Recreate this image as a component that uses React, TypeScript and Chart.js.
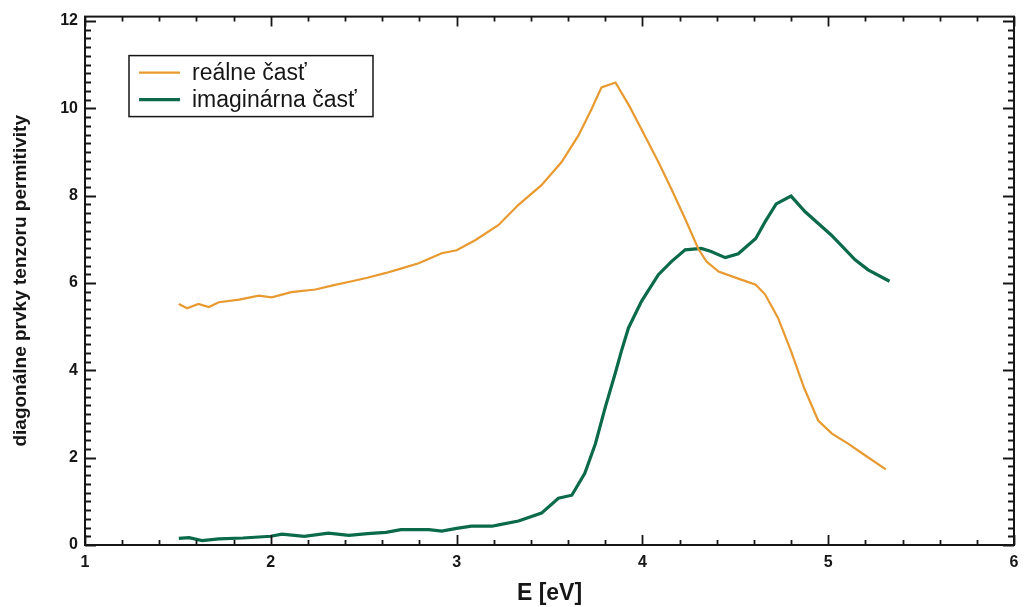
import React, { useEffect, useRef } from "react";
import { Chart, registerables } from "chart.js";

Chart.register(...registerables);

// ---- data ----
const realEnergy = [
  1.505, 1.55, 1.61, 1.667, 1.72, 1.83, 1.935, 2.005, 2.11, 2.24, 2.34, 2.436, 2.52, 2.62, 2.7, 2.796,
  2.92, 3.0, 3.1, 3.226, 3.333, 3.457, 3.565, 3.656, 3.726, 3.78, 3.855, 3.93, 3.995, 4.086, 4.156,
  4.23, 4.3, 4.345, 4.41, 4.516, 4.61, 4.66, 4.73, 4.8, 4.87, 4.946, 5.02, 5.107, 5.2, 5.31,
];
const realValues = [
  5.52, 5.42, 5.52, 5.45, 5.56, 5.62, 5.71, 5.67, 5.79, 5.85, 5.95, 6.04, 6.12, 6.23, 6.33, 6.45,
  6.68, 6.75, 6.98, 7.33, 7.79, 8.24, 8.77, 9.38, 9.98, 10.48, 10.59, 10.05, 9.52, 8.77, 8.15,
  7.47, 6.79, 6.49, 6.26, 6.1, 5.96, 5.74, 5.2, 4.44, 3.6, 2.85, 2.55, 2.32, 2.05, 1.73,
];
const imagEnergy = [
  1.505, 1.56, 1.63, 1.72, 1.85, 2.0, 2.06, 2.18, 2.31, 2.42, 2.52, 2.62, 2.7, 2.85, 2.92, 3.0,
  3.08, 3.19, 3.226, 3.333, 3.457, 3.548, 3.62, 3.69, 3.747, 3.8, 3.855, 3.887, 3.925, 3.995,
  4.086, 4.156, 4.23, 4.317, 4.37, 4.446, 4.516, 4.61, 4.66, 4.72, 4.8, 4.876, 5.016, 5.145,
  5.215, 5.33,
];
const imagValues = [
  0.15, 0.17, 0.1, 0.14, 0.16, 0.2, 0.25, 0.2, 0.27, 0.22, 0.26, 0.29, 0.35, 0.35, 0.32, 0.38,
  0.43, 0.43, 0.46, 0.55, 0.73, 1.07, 1.14, 1.64, 2.32, 3.15, 3.95, 4.44, 4.97, 5.58,
  6.19, 6.49, 6.76, 6.79, 6.72, 6.58, 6.67, 7.02, 7.4, 7.81, 7.99, 7.63, 7.1, 6.53,
  6.3, 6.04,
];
const seriesLabels = ["reálne časť", "imaginárna časť"];
const xTickValues = [1, 2, 3, 4, 5, 6];
const yTickValues = [0, 2, 4, 6, 8, 10, 12];
const xTitle = "E [eV]";
const yTitle = "diagonálne prvky tenzoru permitivity";

const ORANGE = "#E8992F";
const GREEN = "#0A6A4A";
const INK = "#161616";

const frameAndLegend = {
  id: "frameAndLegend",
  afterDatasetsDraw(chart: any) {
    const { ctx, chartArea: a } = chart;
    const xs = chart.scales.x;
    const ys = chart.scales.y;
    ctx.save();
    ctx.strokeStyle = INK;
    ctx.lineWidth = 2;
    ctx.strokeRect(a.left, a.top, a.right - a.left, a.bottom - a.top);
    ctx.lineWidth = 1.8;
    ctx.beginPath();
    // x ticks (bottom + top), minor every 0.2
    for (let i = 0; i <= 25; i++) {
      const v = xTickValues[0] + i * 0.2;
      const px = Math.round(xs.getPixelForValue(v)) + 0.5;
      const len = i % 5 === 0 ? 10 : 5;
      ctx.moveTo(px, a.bottom);
      ctx.lineTo(px, a.bottom - len);
      ctx.moveTo(px, a.top);
      ctx.lineTo(px, a.top + len);
    }
    // y ticks (left + right), minor every 0.2
    for (let i = 0; i <= 60; i++) {
      const v = yTickValues[0] + i * 0.2;
      const py = Math.round(ys.getPixelForValue(v)) + 0.5;
      const len = i % 10 === 0 ? 11 : 6;
      ctx.moveTo(a.left, py);
      ctx.lineTo(a.left + len, py);
      ctx.moveTo(a.right, py);
      ctx.lineTo(a.right - len, py);
    }
    ctx.stroke();

    // legend box
    const bx = a.left + 44;
    const by = a.top + 39;
    const bw = 244;
    const bh = 61;
    ctx.lineWidth = 1.5;
    ctx.strokeStyle = INK;
    ctx.strokeRect(bx, by, bw, bh);
    const dsets = chart.data.datasets;
    const rows = [by + 17, by + 44];
    ctx.font = "23px 'Liberation Sans', Arial, sans-serif";
    ctx.textBaseline = "middle";
    ctx.fillStyle = INK;
    dsets.forEach((d: any, i: number) => {
      ctx.strokeStyle = d.borderColor;
      ctx.lineWidth = d.borderWidth;
      ctx.beginPath();
      ctx.moveTo(bx + 10, rows[i]);
      ctx.lineTo(bx + 51, rows[i]);
      ctx.stroke();
      ctx.fillText(d.label, bx + 63, rows[i] + 1);
    });
    ctx.restore();
  },
};

export default function App() {
  const ref = useRef<HTMLCanvasElement | null>(null);
  useEffect(() => {
    document.body.style.margin = "0";
    const canvas = ref.current!;
    const chart = new Chart(canvas, {
      type: "line",
      data: {
        datasets: [
          {
            label: seriesLabels[0],
            data: realEnergy.map((x, i) => ({ x, y: realValues[i] })),
            borderColor: ORANGE,
            borderWidth: 2.2,
            pointRadius: 0,
            tension: 0,
          },
          {
            label: seriesLabels[1],
            data: imagEnergy.map((x, i) => ({ x, y: imagValues[i] })),
            borderColor: GREEN,
            borderWidth: 3.2,
            pointRadius: 0,
            tension: 0,
          },
        ],
      },
      options: {
        animation: false,
        responsive: false,
        maintainAspectRatio: false,
        layout: { padding: { top: 14, right: 14, left: 0, bottom: 0 } },
        plugins: { legend: { display: false }, tooltip: { enabled: false } },
        scales: {
          x: {
            type: "linear",
            min: xTickValues[0],
            max: xTickValues[xTickValues.length - 1],
            grid: { display: false, drawTicks: false },
            border: { display: false },
            afterBuildTicks: (s: any) => {
              s.ticks = xTickValues.map((v) => ({ value: v }));
            },
            afterFit: (s: any) => {
              s.height = 62;
            },
            ticks: {
              padding: 8,
              color: INK,
              maxRotation: 0,
              font: { family: "'Liberation Sans', Arial, sans-serif", size: 16, weight: "bold" },
            },
            title: {
              display: true,
              text: xTitle,
              color: INK,
              padding: { top: 0, bottom: 0 },
              font: { family: "'Liberation Sans', Arial, sans-serif", size: 23, weight: "bold" },
            },
          },
          y: {
            type: "linear",
            min: yTickValues[0],
            max: 12.1,
            grid: { display: false, drawTicks: false },
            border: { display: false },
            afterBuildTicks: (s: any) => {
              s.ticks = yTickValues.map((v) => ({ value: v }));
            },
            afterFit: (s: any) => {
              s.width = 85;
            },
            ticks: {
              padding: 7,
              color: INK,
              font: { family: "'Liberation Sans', Arial, sans-serif", size: 16, weight: "bold" },
            },
            title: {
              display: true,
              text: yTitle,
              color: INK,
              padding: { top: 9, bottom: 0 },
              font: { family: "'Liberation Sans', Arial, sans-serif", size: 19, weight: "bold" },
            },
          },
        },
      },
      plugins: [frameAndLegend],
    });
    return () => chart.destroy();
  }, []);
  return (
    <div style={{ width: 1028, height: 607 }}>
      <canvas ref={ref} width={1028} height={607} style={{ display: "block" }} />
    </div>
  );
}
